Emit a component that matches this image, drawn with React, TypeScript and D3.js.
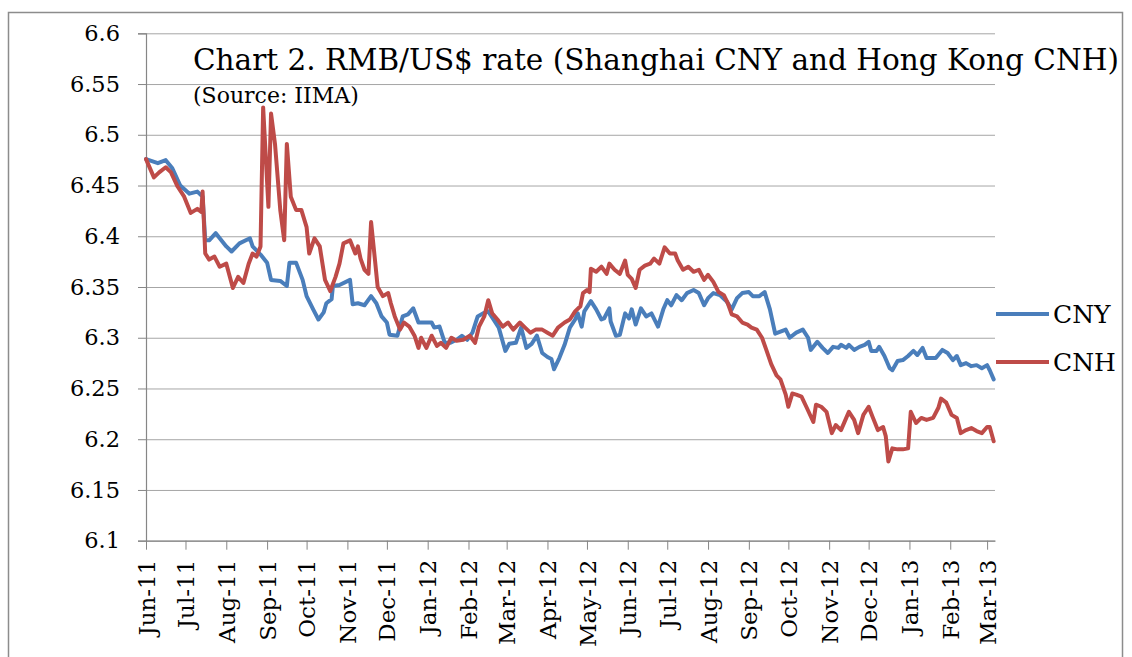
import React, { useEffect, useRef } from "react";
import * as d3 from "d3";

// RMB/US$ rate, Shanghai onshore (CNY) and Hong Kong offshore (CNH)
const cnyData: [string, number][] = [
  ["2011-06-01", 6.476], ["2011-06-10", 6.472], ["2011-06-16", 6.475], ["2011-06-21", 6.467],
  ["2011-06-27", 6.45], ["2011-07-04", 6.442], ["2011-07-10", 6.444], ["2011-07-14", 6.439],
  ["2011-07-16", 6.396], ["2011-07-19", 6.396], ["2011-07-24", 6.403], ["2011-08-01", 6.39],
  ["2011-08-05", 6.385], ["2011-08-11", 6.393], ["2011-08-19", 6.398], ["2011-08-21", 6.39],
  ["2011-08-27", 6.382], ["2011-09-01", 6.374], ["2011-09-04", 6.357], ["2011-09-11", 6.356],
  ["2011-09-16", 6.351], ["2011-09-18", 6.374], ["2011-09-23", 6.374], ["2011-09-28", 6.357],
  ["2011-10-01", 6.341], ["2011-10-06", 6.328], ["2011-10-10", 6.318], ["2011-10-14", 6.325],
  ["2011-10-16", 6.334], ["2011-10-20", 6.338], ["2011-10-21", 6.351], ["2011-10-26", 6.352],
  ["2011-11-03", 6.357], ["2011-11-05", 6.333], ["2011-11-09", 6.334], ["2011-11-14", 6.332],
  ["2011-11-19", 6.341], ["2011-11-23", 6.334], ["2011-11-27", 6.321], ["2011-12-01", 6.315],
  ["2011-12-03", 6.303], ["2011-12-09", 6.302], ["2011-12-13", 6.321], ["2011-12-17", 6.323],
  ["2011-12-21", 6.329], ["2011-12-25", 6.315], ["2011-12-30", 6.315], ["2012-01-04", 6.315],
  ["2012-01-06", 6.31], ["2012-01-10", 6.311], ["2012-01-14", 6.295], ["2012-01-18", 6.295],
  ["2012-01-23", 6.298], ["2012-01-27", 6.302], ["2012-01-31", 6.298], ["2012-02-04", 6.305],
  ["2012-02-08", 6.321], ["2012-02-12", 6.324], ["2012-02-16", 6.326], ["2012-02-20", 6.318],
  ["2012-02-24", 6.31], ["2012-02-29", 6.287], ["2012-03-03", 6.294], ["2012-03-08", 6.295],
  ["2012-03-12", 6.31], ["2012-03-16", 6.29], ["2012-03-20", 6.294], ["2012-03-24", 6.302],
  ["2012-03-28", 6.285], ["2012-04-01", 6.281], ["2012-04-04", 6.279], ["2012-04-06", 6.269],
  ["2012-04-10", 6.28], ["2012-04-14", 6.293], ["2012-04-18", 6.31], ["2012-04-22", 6.318],
  ["2012-04-24", 6.324], ["2012-04-27", 6.311], ["2012-04-29", 6.326], ["2012-05-04", 6.336],
  ["2012-05-08", 6.328], ["2012-05-12", 6.318], ["2012-05-14", 6.319], ["2012-05-18", 6.329],
  ["2012-05-19", 6.316], ["2012-05-23", 6.302], ["2012-05-26", 6.303], ["2012-05-30", 6.324],
  ["2012-06-02", 6.319], ["2012-06-04", 6.328], ["2012-06-07", 6.313], ["2012-06-11", 6.329],
  ["2012-06-15", 6.321], ["2012-06-19", 6.324], ["2012-06-24", 6.311], ["2012-06-28", 6.328],
  ["2012-07-01", 6.337], ["2012-07-04", 6.332], ["2012-07-08", 6.342], ["2012-07-12", 6.337],
  ["2012-07-16", 6.344], ["2012-07-21", 6.347], ["2012-07-25", 6.344], ["2012-07-29", 6.332],
  ["2012-08-01", 6.339], ["2012-08-05", 6.344], ["2012-08-10", 6.342], ["2012-08-15", 6.336],
  ["2012-08-19", 6.328], ["2012-08-23", 6.339], ["2012-08-27", 6.344], ["2012-09-01", 6.345],
  ["2012-09-04", 6.341], ["2012-09-09", 6.341], ["2012-09-13", 6.345], ["2012-09-17", 6.328],
  ["2012-09-21", 6.304], ["2012-09-25", 6.306], ["2012-09-29", 6.308], ["2012-10-02", 6.3],
  ["2012-10-07", 6.305], ["2012-10-12", 6.308], ["2012-10-16", 6.3], ["2012-10-18", 6.288],
  ["2012-10-23", 6.296], ["2012-10-27", 6.29], ["2012-10-31", 6.285], ["2012-11-04", 6.291],
  ["2012-11-08", 6.29], ["2012-11-10", 6.293], ["2012-11-14", 6.29], ["2012-11-16", 6.293],
  ["2012-11-20", 6.288], ["2012-11-24", 6.291], ["2012-11-28", 6.293], ["2012-12-01", 6.296],
  ["2012-12-03", 6.287], ["2012-12-07", 6.287], ["2012-12-09", 6.291], ["2012-12-13", 6.282],
  ["2012-12-17", 6.27], ["2012-12-19", 6.268], ["2012-12-23", 6.277], ["2012-12-27", 6.278],
  ["2012-12-31", 6.282], ["2013-01-04", 6.287], ["2013-01-07", 6.283], ["2013-01-11", 6.29],
  ["2013-01-14", 6.28], ["2013-01-18", 6.28], ["2013-01-21", 6.28], ["2013-01-26", 6.288],
  ["2013-01-30", 6.285], ["2013-02-03", 6.278], ["2013-02-06", 6.282], ["2013-02-09", 6.273],
  ["2013-02-13", 6.275], ["2013-02-17", 6.272], ["2013-02-21", 6.273], ["2013-02-25", 6.27],
  ["2013-03-01", 6.273], ["2013-03-03", 6.268], ["2013-03-06", 6.259],
];

const cnhData: [string, number][] = [
  ["2011-06-01", 6.476], ["2011-06-07", 6.458], ["2011-06-11", 6.463], ["2011-06-16", 6.468],
  ["2011-06-20", 6.463], ["2011-06-25", 6.449], ["2011-06-30", 6.439], ["2011-07-05", 6.423],
  ["2011-07-10", 6.427], ["2011-07-13", 6.424], ["2011-07-14", 6.444], ["2011-07-16", 6.383],
  ["2011-07-19", 6.377], ["2011-07-23", 6.38], ["2011-07-27", 6.37], ["2011-08-01", 6.373],
  ["2011-08-06", 6.349], ["2011-08-10", 6.36], ["2011-08-14", 6.354], ["2011-08-18", 6.373],
  ["2011-08-21", 6.383], ["2011-08-24", 6.38], ["2011-08-27", 6.39], ["2011-08-29", 6.527],
  ["2011-09-02", 6.429], ["2011-09-04", 6.521], ["2011-09-07", 6.491], ["2011-09-11", 6.426],
  ["2011-09-14", 6.396], ["2011-09-16", 6.491], ["2011-09-19", 6.439], ["2011-09-23", 6.426],
  ["2011-09-27", 6.426], ["2011-10-01", 6.409], ["2011-10-03", 6.383], ["2011-10-07", 6.398],
  ["2011-10-11", 6.39], ["2011-10-15", 6.357], ["2011-10-19", 6.346], ["2011-10-23", 6.36],
  ["2011-10-26", 6.373], ["2011-10-29", 6.393], ["2011-11-03", 6.396], ["2011-11-07", 6.383],
  ["2011-11-09", 6.39], ["2011-11-11", 6.378], ["2011-11-14", 6.367], ["2011-11-17", 6.363],
  ["2011-11-19", 6.414], ["2011-11-22", 6.376], ["2011-11-24", 6.35], ["2011-11-28", 6.341],
  ["2011-12-02", 6.344], ["2011-12-04", 6.334], ["2011-12-07", 6.321], ["2011-12-11", 6.308],
  ["2011-12-14", 6.315], ["2011-12-18", 6.311], ["2011-12-22", 6.302], ["2011-12-25", 6.29],
  ["2011-12-27", 6.3], ["2011-12-31", 6.29], ["2012-01-04", 6.302], ["2012-01-08", 6.292],
  ["2012-01-11", 6.295], ["2012-01-15", 6.29], ["2012-01-19", 6.3], ["2012-01-23", 6.297],
  ["2012-01-28", 6.298], ["2012-02-02", 6.302], ["2012-02-06", 6.295], ["2012-02-09", 6.311],
  ["2012-02-13", 6.321], ["2012-02-16", 6.337], ["2012-02-19", 6.324], ["2012-02-23", 6.318],
  ["2012-02-27", 6.311], ["2012-03-02", 6.315], ["2012-03-06", 6.308], ["2012-03-11", 6.315],
  ["2012-03-15", 6.31], ["2012-03-19", 6.305], ["2012-03-23", 6.308], ["2012-03-28", 6.308],
  ["2012-04-01", 6.305], ["2012-04-05", 6.302], ["2012-04-09", 6.31], ["2012-04-14", 6.315],
  ["2012-04-18", 6.318], ["2012-04-22", 6.326], ["2012-04-26", 6.331], ["2012-04-28", 6.344],
  ["2012-05-01", 6.347], ["2012-05-03", 6.345], ["2012-05-04", 6.368], ["2012-05-08", 6.365],
  ["2012-05-12", 6.37], ["2012-05-16", 6.363], ["2012-05-18", 6.373], ["2012-05-22", 6.367],
  ["2012-05-26", 6.363], ["2012-05-30", 6.376], ["2012-06-01", 6.362], ["2012-06-04", 6.358],
  ["2012-06-07", 6.349], ["2012-06-10", 6.367], ["2012-06-14", 6.371], ["2012-06-18", 6.373],
  ["2012-06-21", 6.378], ["2012-06-25", 6.373], ["2012-06-29", 6.389], ["2012-07-03", 6.383],
  ["2012-07-07", 6.383], ["2012-07-09", 6.376], ["2012-07-13", 6.367], ["2012-07-17", 6.37],
  ["2012-07-21", 6.365], ["2012-07-25", 6.367], ["2012-07-29", 6.357], ["2012-08-01", 6.362],
  ["2012-08-05", 6.355], ["2012-08-09", 6.345], ["2012-08-13", 6.342], ["2012-08-16", 6.334],
  ["2012-08-19", 6.323], ["2012-08-23", 6.321], ["2012-08-27", 6.315], ["2012-08-31", 6.313],
  ["2012-09-03", 6.31], ["2012-09-07", 6.308], ["2012-09-11", 6.3], ["2012-09-14", 6.289],
  ["2012-09-18", 6.274], ["2012-09-22", 6.263], ["2012-09-25", 6.259], ["2012-09-29", 6.244],
  ["2012-10-01", 6.232], ["2012-10-04", 6.245], ["2012-10-07", 6.244], ["2012-10-11", 6.242],
  ["2012-10-15", 6.231], ["2012-10-20", 6.217], ["2012-10-22", 6.234], ["2012-10-26", 6.232],
  ["2012-10-30", 6.227], ["2012-11-03", 6.206], ["2012-11-06", 6.214], ["2012-11-10", 6.209],
  ["2012-11-14", 6.221], ["2012-11-16", 6.227], ["2012-11-20", 6.219], ["2012-11-23", 6.206],
  ["2012-11-27", 6.224], ["2012-12-01", 6.232], ["2012-12-04", 6.222], ["2012-12-08", 6.209],
  ["2012-12-12", 6.212], ["2012-12-14", 6.203], ["2012-12-16", 6.178], ["2012-12-19", 6.191],
  ["2012-12-23", 6.19], ["2012-12-27", 6.19], ["2012-12-31", 6.191], ["2013-01-02", 6.227],
  ["2013-01-06", 6.216], ["2013-01-10", 6.221], ["2013-01-14", 6.219], ["2013-01-19", 6.221],
  ["2013-01-23", 6.231], ["2013-01-25", 6.24], ["2013-01-29", 6.236], ["2013-02-02", 6.224],
  ["2013-02-06", 6.221], ["2013-02-09", 6.206], ["2013-02-13", 6.209], ["2013-02-17", 6.211],
  ["2013-02-21", 6.208], ["2013-02-25", 6.206], ["2013-03-01", 6.212], ["2013-03-03", 6.212],
  ["2013-03-06", 6.198],
];

const monthTicks = [
  "Jun-11", "Jul-11", "Aug-11", "Sep-11", "Oct-11", "Nov-11", "Dec-11",
  "Jan-12", "Feb-12", "Mar-12", "Apr-12", "May-12", "Jun-12", "Jul-12",
  "Aug-12", "Sep-12", "Oct-12", "Nov-12", "Dec-12", "Jan-13", "Feb-13", "Mar-13",
];
const yTicks = [6.1, 6.15, 6.2, 6.25, 6.3, 6.35, 6.4, 6.45, 6.5, 6.55, 6.6];
const seriesNames = ["CNY", "CNH"];
const seriesColors = ["#4a7ebb", "#be4b48"];

const title = "Chart 2. RMB/US$ rate (Shanghai CNY and Hong Kong CNH)";
const subtitle = "(Source: IIMA)";

const FONT = "'DejaVu Serif', serif";

export default function App() {
  const ref = useRef<SVGSVGElement>(null);

  useEffect(() => {
    const svg = d3.select(ref.current);
    svg.selectAll("*").remove();

    const parse = d3.utcParse("%Y-%m-%d");
    const parseTick = d3.utcParse("%b-%y");
    const left = 146, right = 995, top = 33.3, bottom = 540.7;

    const x = d3
      .scaleUtc()
      .domain([parse("2011-06-01")!, parse("2013-03-07")!])
      .range([left, right]);
    const y = d3.scaleLinear().domain([6.1, 6.6]).range([bottom, top]);

    // outer frame
    svg
      .append("rect")
      .attr("x", 8.5)
      .attr("y", 12.5)
      .attr("width", 1114)
      .attr("height", 680)
      .attr("fill", "none")
      .attr("stroke", "#8c8c8c")
      .attr("stroke-width", 1.5);

    // horizontal grid
    svg
      .append("g")
      .attr("transform", "translate(" + left + ",0)")
      .call(
        d3
          .axisLeft(y)
          .tickValues(yTicks)
          .tickSize(-(right - left))
          .tickFormat(() => "")
      )
      .call((g) => g.select(".domain").remove())
      .call((g) => g.selectAll("line").attr("stroke", "#a6a6a6").attr("stroke-width", 1));

    // y axis
    const yAxis = svg
      .append("g")
      .attr("transform", "translate(" + left + ",0)")
      .call(
        d3
          .axisLeft(y)
          .tickValues(yTicks)
          .tickSize(8)
          .tickPadding(18)
          .tickFormat((d) => String(d))
      );
    yAxis.select(".domain").attr("stroke", "#868686").attr("stroke-width", 1.2);
    yAxis.selectAll("line").attr("stroke", "#868686");
    yAxis
      .selectAll("text")
      .attr("font-family", FONT)
      .attr("font-size", 22.5)
      .attr("fill", "#000");

    // x axis
    const tickDates = monthTicks.map((m) => parseTick(m)!);
    const xAxis = svg
      .append("g")
      .attr("transform", "translate(0," + bottom + ")")
      .call(
        d3
          .axisBottom(x)
          .tickValues(tickDates)
          .tickSize(9)
          .tickSizeOuter(0)
          .tickFormat((d, i) => monthTicks[i])
      );
    xAxis.select(".domain").attr("stroke", "#868686").attr("stroke-width", 1.2);
    xAxis.selectAll("line").attr("stroke", "#868686");
    xAxis
      .selectAll("text")
      .attr("font-family", FONT)
      .attr("font-size", 23)
      .attr("fill", "#000")
      .attr("text-anchor", "end")
      .attr("transform", "rotate(-90)")
      .attr("x", -19)
      .attr("y", 0)
      .attr("dy", "0.35em");

    // series lines
    const line = d3
      .line<[string, number]>()
      .x((d) => x(parse(d[0])!))
      .y((d) => y(d[1]));
    [cnyData, cnhData].forEach((data, i) => {
      svg
        .append("path")
        .datum(data)
        .attr("fill", "none")
        .attr("stroke", seriesColors[i])
        .attr("stroke-width", 4)
        .attr("stroke-linejoin", "round")
        .attr("stroke-linecap", "round")
        .attr("d", line);
    });

    // legend
    seriesNames.forEach((name, i) => {
      const ly = 314 + i * 48;
      svg
        .append("line")
        .attr("x1", 996)
        .attr("x2", 1049)
        .attr("y1", ly)
        .attr("y2", ly)
        .attr("stroke", seriesColors[i])
        .attr("stroke-width", 4);
      svg
        .append("text")
        .attr("x", 1053)
        .attr("y", ly)
        .attr("dy", "0.35em")
        .attr("font-family", FONT)
        .attr("font-size", 25)
        .text(name);
    });

    // title
    svg
      .append("text")
      .attr("x", 193)
      .attr("y", 70)
      .attr("font-family", FONT)
      .attr("font-size", 29.5)
      .text(title);
    svg
      .append("text")
      .attr("x", 193)
      .attr("y", 103)
      .attr("font-family", FONT)
      .attr("font-size", 22)
      .text(subtitle);
  }, []);

  return (
    <svg
      ref={ref}
      width={1132}
      height={657}
      style={{ position: "absolute", left: 0, top: 0, background: "#fff" }}
    />
  );
}
